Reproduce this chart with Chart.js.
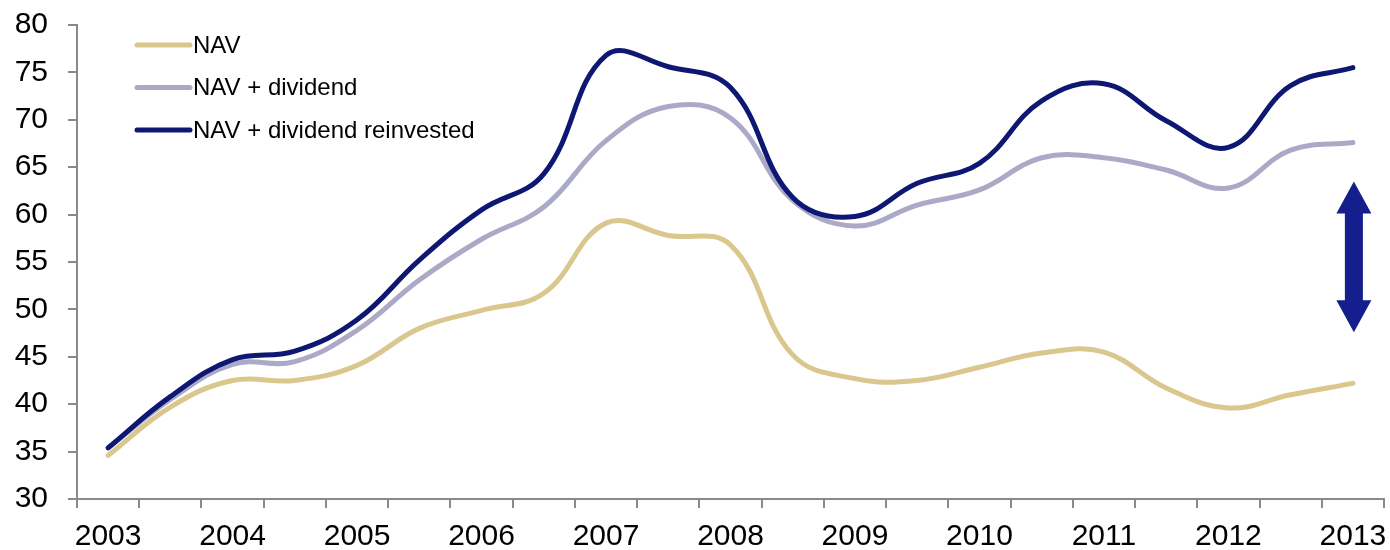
<!DOCTYPE html>
<html>
<head>
<meta charset="utf-8">
<title>NAV performance</title>
<script src="https://cdn.jsdelivr.net/npm/chart.js@4/dist/chart.umd.min.js"></script>
<style>
  html, body { margin: 0; padding: 0; background: #fff; }
  #navChart { display: block; }
</style>
</head>
<body>
<canvas id="navChart" width="1390" height="550"></canvas>
<script>
// Half-yearly observations, one year label every second point
const years = ['2003', '2004', '2005', '2006', '2007', '2008', '2009', '2010', '2011', '2012', '2013'];
const periods = [];
years.forEach((y, i) => {
    periods.push(y);
    if (i < years.length - 1) periods.push(y + ' H2');
});

const navValues = [34.6, 39.7, 42.5, 42.5, 44.1, 48.0, 49.9, 51.7, 59.1, 57.8, 56.8,
                   45.2, 42.7, 42.5, 43.9, 45.4, 45.5, 41.7, 39.6, 41.0, 42.2];
const navDividend = [35.4, 40.5, 44.2, 44.5, 47.8, 53.1, 57.4, 60.8, 67.8, 71.4, 70.2,
                     61.5, 58.8, 61.0, 62.6, 66.0, 66.0, 64.7, 62.8, 66.8, 67.6];
const navReinvested = [35.4, 40.8, 44.7, 45.6, 48.9, 55.2, 60.5, 64.3, 76.8, 75.6, 73.4,
                       61.8, 59.8, 63.3, 65.4, 72.0, 73.8, 69.9, 67.1, 73.6, 75.5];

// Gap between the two total-return lines at the last point, shown by the arrow
const arrowTop = 63.5;
const arrowBottom = 47.6;

const FONT = 'Arial, "Liberation Sans", sans-serif';
const AXIS_GREY = '#8a8a8a';

// Legend stacked in the upper left corner of the plot
const cornerLegend = {
    id: 'cornerLegend',
    afterDraw(chart) {
        const ctx = chart.ctx;
        ctx.save();
        ctx.font = '24px ' + FONT;
        ctx.textBaseline = 'middle';
        ctx.fillStyle = '#000';
        chart.data.datasets.forEach((ds, i) => {
            const y = 45 + i * 42.5;
            ctx.beginPath();
            ctx.lineCap = 'round';
            ctx.lineWidth = 5;
            ctx.strokeStyle = ds.borderColor;
            ctx.moveTo(137, y);
            ctx.lineTo(190, y);
            ctx.stroke();
            ctx.fillText(ds.label, 193, y + 1);
        });
        ctx.restore();
    }
};

// Double-headed arrow at the last observation
const gapArrow = {
    id: 'gapArrow',
    afterDatasetsDraw(chart) {
        const xs = chart.scales.x, ys = chart.scales.y;
        const x = xs.getPixelForValue(periods.length - 1) + 1;
        const top = ys.getPixelForValue(arrowTop);
        const bottom = ys.getPixelForValue(arrowBottom);
        const headW = 17.5, headH = 32, shaft = 9;
        const ctx = chart.ctx;
        ctx.save();
        ctx.fillStyle = '#141e8c';
        ctx.beginPath();
        ctx.moveTo(x, top);
        ctx.lineTo(x + headW, top + headH);
        ctx.lineTo(x + shaft, top + headH);
        ctx.lineTo(x + shaft, bottom - headH);
        ctx.lineTo(x + headW, bottom - headH);
        ctx.lineTo(x, bottom);
        ctx.lineTo(x - headW, bottom - headH);
        ctx.lineTo(x - shaft, bottom - headH);
        ctx.lineTo(x - shaft, top + headH);
        ctx.lineTo(x - headW, top + headH);
        ctx.closePath();
        ctx.fill();
        ctx.restore();
    }
};

const lineStyle = {
    borderWidth: 5,
    pointRadius: 0,
    tension: 0.4,
    borderCapStyle: 'round',
    fill: false
};

new Chart(document.getElementById('navChart').getContext('2d'), {
    type: 'line',
    data: {
        labels: periods,
        datasets: [
            Object.assign({ label: 'NAV', data: navValues, borderColor: '#dac78e', order: 2 }, lineStyle),
            Object.assign({ label: 'NAV + dividend', data: navDividend, borderColor: '#aaaac8', order: 1 }, lineStyle),
            Object.assign({ label: 'NAV + dividend reinvested', data: navReinvested, borderColor: '#0e1873', order: 0 }, lineStyle)
        ]
    },
    options: {
        responsive: false,
        animation: false,
        devicePixelRatio: 1,
        layout: { padding: { top: 25, right: 6, left: 0, bottom: 0 } },
        plugins: {
            legend: { display: false },
            tooltip: { enabled: false }
        },
        scales: {
            x: {
                offset: true,
                grid: {
                    offset: true,
                    drawOnChartArea: false,
                    tickLength: 9,
                    color: AXIS_GREY,
                    lineWidth: 2
                },
                border: { color: AXIS_GREY, width: 2 },
                ticks: {
                    autoSkip: false,
                    maxRotation: 0,
                    padding: 11,
                    color: '#000',
                    font: { family: FONT, size: 30 },
                    callback: function (value, index) {
                        return index % 2 === 0 ? this.getLabelForValue(value) : '';
                    }
                },
                afterFit(scale) {
                    scale.height = 51;
                    scale.paddingLeft = 0;
                    scale.paddingRight = 0;
                }
            },
            y: {
                min: 30,
                max: 80,
                grid: {
                    drawOnChartArea: false,
                    tickLength: 9,
                    color: AXIS_GREY,
                    lineWidth: 2
                },
                border: { color: AXIS_GREY, width: 2 },
                ticks: {
                    stepSize: 5,
                    padding: 20,
                    color: '#000',
                    font: { family: FONT, size: 30 }
                },
                afterFit(scale) {
                    scale.width = 77;
                    scale.paddingTop = 0;
                    scale.paddingBottom = 0;
                }
            }
        }
    },
    plugins: [cornerLegend, gapArrow]
});
</script>
</body>
</html>
